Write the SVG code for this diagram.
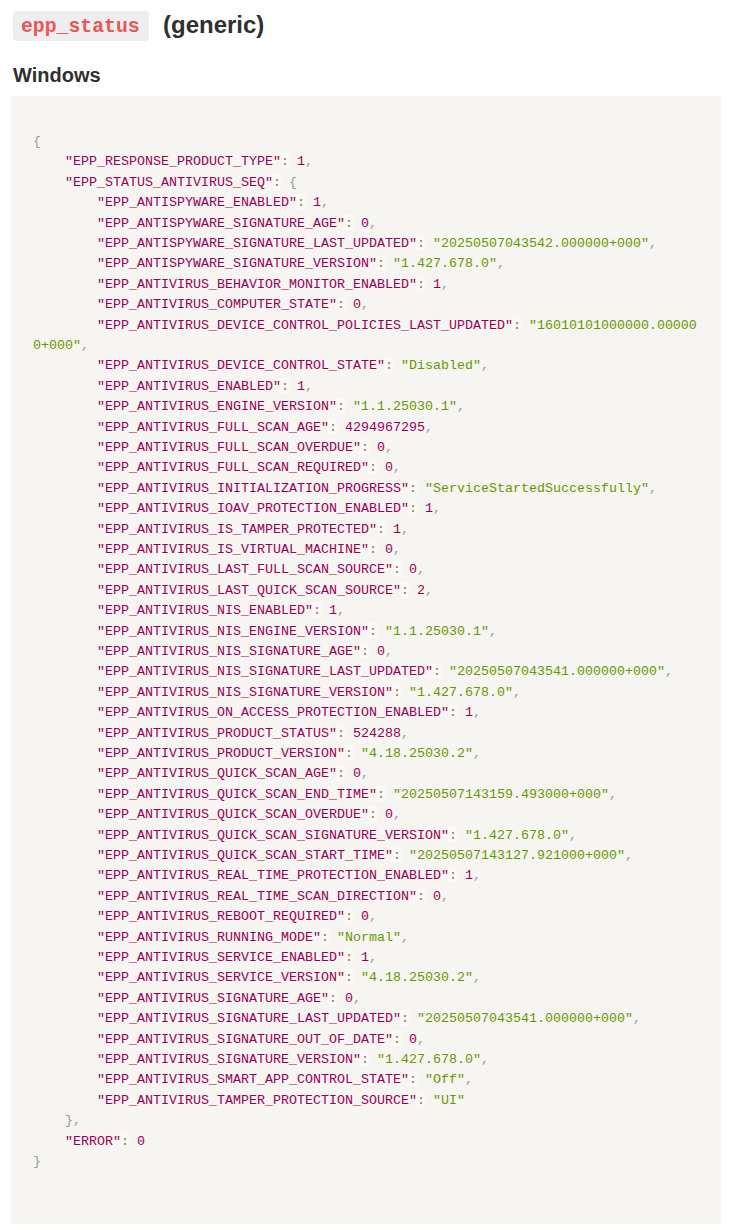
<svg xmlns="http://www.w3.org/2000/svg" width="739" height="1230" viewBox="0 0 739 1230">
<style>
.h{font-family:"Liberation Sans",Arial,sans-serif;font-weight:bold;fill:#2f2f2f}
.c{font-family:"Liberation Mono","DejaVu Sans Mono",monospace;font-size:13.33px}
.k{fill:#990055}.s{fill:#669900}.n{fill:#990055}.p{fill:#999999}.o{fill:#9a6e3a}
.ob{fill:#fbfaf9}
</style>
<rect width="739" height="1230" fill="#ffffff"/>
<g id="title">
<rect x="13" y="11" width="136" height="30" rx="4" fill="#eeeeee"/>
<text x="21" y="32" font-family="Liberation Mono, monospace" font-size="19.8" font-weight="bold" fill="#eb5757">epp_status</text>
<text class="h" x="163" y="33" font-size="24">(generic)</text>
</g>
<g id="heading">
<text class="h" x="13" y="82" font-size="20">Windows</text>
</g>
<g id="codeblock">
<rect x="11" y="96" width="710" height="1128" rx="4" fill="#f6f5f2"/>
<g id="colon-highlights">
<rect class="ob" x="281" y="153.4" width="8" height="15.5"/>
<rect class="ob" x="273" y="173.8" width="8" height="15.5"/>
<rect class="ob" x="297" y="194.2" width="8" height="15.5"/>
<rect class="ob" x="345" y="214.6" width="8" height="15.5"/>
<rect class="ob" x="417" y="235" width="8" height="15.5"/>
<rect class="ob" x="377" y="255.4" width="8" height="15.5"/>
<rect class="ob" x="417" y="275.8" width="8" height="15.5"/>
<rect class="ob" x="337" y="296.2" width="8" height="15.5"/>
<rect class="ob" x="513" y="316.6" width="8" height="15.5"/>
<rect class="ob" x="385" y="357.4" width="8" height="15.5"/>
<rect class="ob" x="281" y="377.8" width="8" height="15.5"/>
<rect class="ob" x="337" y="398.2" width="8" height="15.5"/>
<rect class="ob" x="329" y="418.6" width="8" height="15.5"/>
<rect class="ob" x="361" y="439" width="8" height="15.5"/>
<rect class="ob" x="369" y="459.4" width="8" height="15.5"/>
<rect class="ob" x="409" y="479.8" width="8" height="15.5"/>
<rect class="ob" x="409" y="500.2" width="8" height="15.5"/>
<rect class="ob" x="377" y="520.6" width="8" height="15.5"/>
<rect class="ob" x="369" y="541" width="8" height="15.5"/>
<rect class="ob" x="393" y="561.4" width="8" height="15.5"/>
<rect class="ob" x="401" y="581.8" width="8" height="15.5"/>
<rect class="ob" x="313" y="602.2" width="8" height="15.5"/>
<rect class="ob" x="369" y="622.6" width="8" height="15.5"/>
<rect class="ob" x="361" y="643" width="8" height="15.5"/>
<rect class="ob" x="433" y="663.4" width="8" height="15.5"/>
<rect class="ob" x="393" y="683.8" width="8" height="15.5"/>
<rect class="ob" x="449" y="704.2" width="8" height="15.5"/>
<rect class="ob" x="337" y="724.6" width="8" height="15.5"/>
<rect class="ob" x="345" y="745" width="8" height="15.5"/>
<rect class="ob" x="337" y="765.4" width="8" height="15.5"/>
<rect class="ob" x="377" y="785.8" width="8" height="15.5"/>
<rect class="ob" x="369" y="806.2" width="8" height="15.5"/>
<rect class="ob" x="449" y="826.6" width="8" height="15.5"/>
<rect class="ob" x="393" y="847" width="8" height="15.5"/>
<rect class="ob" x="449" y="867.4" width="8" height="15.5"/>
<rect class="ob" x="417" y="887.8" width="8" height="15.5"/>
<rect class="ob" x="345" y="908.2" width="8" height="15.5"/>
<rect class="ob" x="321" y="928.6" width="8" height="15.5"/>
<rect class="ob" x="345" y="949" width="8" height="15.5"/>
<rect class="ob" x="345" y="969.4" width="8" height="15.5"/>
<rect class="ob" x="329" y="989.8" width="8" height="15.5"/>
<rect class="ob" x="401" y="1010.2" width="8" height="15.5"/>
<rect class="ob" x="393" y="1030.6" width="8" height="15.5"/>
<rect class="ob" x="361" y="1051" width="8" height="15.5"/>
<rect class="ob" x="409" y="1071.4" width="8" height="15.5"/>
<rect class="ob" x="417" y="1091.8" width="8" height="15.5"/>
<rect class="ob" x="121" y="1132.6" width="8" height="15.5"/>
</g>
<g id="code" class="c">
<text x="33" y="145"><tspan class="p">{</tspan></text>
<text x="65" y="165.4"><tspan class="k">"EPP_RESPONSE_PRODUCT_TYPE"</tspan><tspan class="o">:</tspan> <tspan class="n">1</tspan><tspan class="p">,</tspan></text>
<text x="65" y="185.8"><tspan class="k">"EPP_STATUS_ANTIVIRUS_SEQ"</tspan><tspan class="o">:</tspan> <tspan class="p">{</tspan></text>
<text x="97" y="206.2"><tspan class="k">"EPP_ANTISPYWARE_ENABLED"</tspan><tspan class="o">:</tspan> <tspan class="n">1</tspan><tspan class="p">,</tspan></text>
<text x="97" y="226.6"><tspan class="k">"EPP_ANTISPYWARE_SIGNATURE_AGE"</tspan><tspan class="o">:</tspan> <tspan class="n">0</tspan><tspan class="p">,</tspan></text>
<text x="97" y="247"><tspan class="k">"EPP_ANTISPYWARE_SIGNATURE_LAST_UPDATED"</tspan><tspan class="o">:</tspan> <tspan class="s">"20250507043542.000000+000"</tspan><tspan class="p">,</tspan></text>
<text x="97" y="267.4"><tspan class="k">"EPP_ANTISPYWARE_SIGNATURE_VERSION"</tspan><tspan class="o">:</tspan> <tspan class="s">"1.427.678.0"</tspan><tspan class="p">,</tspan></text>
<text x="97" y="287.8"><tspan class="k">"EPP_ANTIVIRUS_BEHAVIOR_MONITOR_ENABLED"</tspan><tspan class="o">:</tspan> <tspan class="n">1</tspan><tspan class="p">,</tspan></text>
<text x="97" y="308.2"><tspan class="k">"EPP_ANTIVIRUS_COMPUTER_STATE"</tspan><tspan class="o">:</tspan> <tspan class="n">0</tspan><tspan class="p">,</tspan></text>
<text x="97" y="328.6"><tspan class="k">"EPP_ANTIVIRUS_DEVICE_CONTROL_POLICIES_LAST_UPDATED"</tspan><tspan class="o">:</tspan> <tspan class="s">"16010101000000.00000</tspan></text>
<text x="33" y="349"><tspan class="s">0+000"</tspan><tspan class="p">,</tspan></text>
<text x="97" y="369.4"><tspan class="k">"EPP_ANTIVIRUS_DEVICE_CONTROL_STATE"</tspan><tspan class="o">:</tspan> <tspan class="s">"Disabled"</tspan><tspan class="p">,</tspan></text>
<text x="97" y="389.8"><tspan class="k">"EPP_ANTIVIRUS_ENABLED"</tspan><tspan class="o">:</tspan> <tspan class="n">1</tspan><tspan class="p">,</tspan></text>
<text x="97" y="410.2"><tspan class="k">"EPP_ANTIVIRUS_ENGINE_VERSION"</tspan><tspan class="o">:</tspan> <tspan class="s">"1.1.25030.1"</tspan><tspan class="p">,</tspan></text>
<text x="97" y="430.6"><tspan class="k">"EPP_ANTIVIRUS_FULL_SCAN_AGE"</tspan><tspan class="o">:</tspan> <tspan class="n">4294967295</tspan><tspan class="p">,</tspan></text>
<text x="97" y="451"><tspan class="k">"EPP_ANTIVIRUS_FULL_SCAN_OVERDUE"</tspan><tspan class="o">:</tspan> <tspan class="n">0</tspan><tspan class="p">,</tspan></text>
<text x="97" y="471.4"><tspan class="k">"EPP_ANTIVIRUS_FULL_SCAN_REQUIRED"</tspan><tspan class="o">:</tspan> <tspan class="n">0</tspan><tspan class="p">,</tspan></text>
<text x="97" y="491.8"><tspan class="k">"EPP_ANTIVIRUS_INITIALIZATION_PROGRESS"</tspan><tspan class="o">:</tspan> <tspan class="s">"ServiceStartedSuccessfully"</tspan><tspan class="p">,</tspan></text>
<text x="97" y="512.2"><tspan class="k">"EPP_ANTIVIRUS_IOAV_PROTECTION_ENABLED"</tspan><tspan class="o">:</tspan> <tspan class="n">1</tspan><tspan class="p">,</tspan></text>
<text x="97" y="532.6"><tspan class="k">"EPP_ANTIVIRUS_IS_TAMPER_PROTECTED"</tspan><tspan class="o">:</tspan> <tspan class="n">1</tspan><tspan class="p">,</tspan></text>
<text x="97" y="553"><tspan class="k">"EPP_ANTIVIRUS_IS_VIRTUAL_MACHINE"</tspan><tspan class="o">:</tspan> <tspan class="n">0</tspan><tspan class="p">,</tspan></text>
<text x="97" y="573.4"><tspan class="k">"EPP_ANTIVIRUS_LAST_FULL_SCAN_SOURCE"</tspan><tspan class="o">:</tspan> <tspan class="n">0</tspan><tspan class="p">,</tspan></text>
<text x="97" y="593.8"><tspan class="k">"EPP_ANTIVIRUS_LAST_QUICK_SCAN_SOURCE"</tspan><tspan class="o">:</tspan> <tspan class="n">2</tspan><tspan class="p">,</tspan></text>
<text x="97" y="614.2"><tspan class="k">"EPP_ANTIVIRUS_NIS_ENABLED"</tspan><tspan class="o">:</tspan> <tspan class="n">1</tspan><tspan class="p">,</tspan></text>
<text x="97" y="634.6"><tspan class="k">"EPP_ANTIVIRUS_NIS_ENGINE_VERSION"</tspan><tspan class="o">:</tspan> <tspan class="s">"1.1.25030.1"</tspan><tspan class="p">,</tspan></text>
<text x="97" y="655"><tspan class="k">"EPP_ANTIVIRUS_NIS_SIGNATURE_AGE"</tspan><tspan class="o">:</tspan> <tspan class="n">0</tspan><tspan class="p">,</tspan></text>
<text x="97" y="675.4"><tspan class="k">"EPP_ANTIVIRUS_NIS_SIGNATURE_LAST_UPDATED"</tspan><tspan class="o">:</tspan> <tspan class="s">"20250507043541.000000+000"</tspan><tspan class="p">,</tspan></text>
<text x="97" y="695.8"><tspan class="k">"EPP_ANTIVIRUS_NIS_SIGNATURE_VERSION"</tspan><tspan class="o">:</tspan> <tspan class="s">"1.427.678.0"</tspan><tspan class="p">,</tspan></text>
<text x="97" y="716.2"><tspan class="k">"EPP_ANTIVIRUS_ON_ACCESS_PROTECTION_ENABLED"</tspan><tspan class="o">:</tspan> <tspan class="n">1</tspan><tspan class="p">,</tspan></text>
<text x="97" y="736.6"><tspan class="k">"EPP_ANTIVIRUS_PRODUCT_STATUS"</tspan><tspan class="o">:</tspan> <tspan class="n">524288</tspan><tspan class="p">,</tspan></text>
<text x="97" y="757"><tspan class="k">"EPP_ANTIVIRUS_PRODUCT_VERSION"</tspan><tspan class="o">:</tspan> <tspan class="s">"4.18.25030.2"</tspan><tspan class="p">,</tspan></text>
<text x="97" y="777.4"><tspan class="k">"EPP_ANTIVIRUS_QUICK_SCAN_AGE"</tspan><tspan class="o">:</tspan> <tspan class="n">0</tspan><tspan class="p">,</tspan></text>
<text x="97" y="797.8"><tspan class="k">"EPP_ANTIVIRUS_QUICK_SCAN_END_TIME"</tspan><tspan class="o">:</tspan> <tspan class="s">"20250507143159.493000+000"</tspan><tspan class="p">,</tspan></text>
<text x="97" y="818.2"><tspan class="k">"EPP_ANTIVIRUS_QUICK_SCAN_OVERDUE"</tspan><tspan class="o">:</tspan> <tspan class="n">0</tspan><tspan class="p">,</tspan></text>
<text x="97" y="838.6"><tspan class="k">"EPP_ANTIVIRUS_QUICK_SCAN_SIGNATURE_VERSION"</tspan><tspan class="o">:</tspan> <tspan class="s">"1.427.678.0"</tspan><tspan class="p">,</tspan></text>
<text x="97" y="859"><tspan class="k">"EPP_ANTIVIRUS_QUICK_SCAN_START_TIME"</tspan><tspan class="o">:</tspan> <tspan class="s">"20250507143127.921000+000"</tspan><tspan class="p">,</tspan></text>
<text x="97" y="879.4"><tspan class="k">"EPP_ANTIVIRUS_REAL_TIME_PROTECTION_ENABLED"</tspan><tspan class="o">:</tspan> <tspan class="n">1</tspan><tspan class="p">,</tspan></text>
<text x="97" y="899.8"><tspan class="k">"EPP_ANTIVIRUS_REAL_TIME_SCAN_DIRECTION"</tspan><tspan class="o">:</tspan> <tspan class="n">0</tspan><tspan class="p">,</tspan></text>
<text x="97" y="920.2"><tspan class="k">"EPP_ANTIVIRUS_REBOOT_REQUIRED"</tspan><tspan class="o">:</tspan> <tspan class="n">0</tspan><tspan class="p">,</tspan></text>
<text x="97" y="940.6"><tspan class="k">"EPP_ANTIVIRUS_RUNNING_MODE"</tspan><tspan class="o">:</tspan> <tspan class="s">"Normal"</tspan><tspan class="p">,</tspan></text>
<text x="97" y="961"><tspan class="k">"EPP_ANTIVIRUS_SERVICE_ENABLED"</tspan><tspan class="o">:</tspan> <tspan class="n">1</tspan><tspan class="p">,</tspan></text>
<text x="97" y="981.4"><tspan class="k">"EPP_ANTIVIRUS_SERVICE_VERSION"</tspan><tspan class="o">:</tspan> <tspan class="s">"4.18.25030.2"</tspan><tspan class="p">,</tspan></text>
<text x="97" y="1001.8"><tspan class="k">"EPP_ANTIVIRUS_SIGNATURE_AGE"</tspan><tspan class="o">:</tspan> <tspan class="n">0</tspan><tspan class="p">,</tspan></text>
<text x="97" y="1022.2"><tspan class="k">"EPP_ANTIVIRUS_SIGNATURE_LAST_UPDATED"</tspan><tspan class="o">:</tspan> <tspan class="s">"20250507043541.000000+000"</tspan><tspan class="p">,</tspan></text>
<text x="97" y="1042.6"><tspan class="k">"EPP_ANTIVIRUS_SIGNATURE_OUT_OF_DATE"</tspan><tspan class="o">:</tspan> <tspan class="n">0</tspan><tspan class="p">,</tspan></text>
<text x="97" y="1063"><tspan class="k">"EPP_ANTIVIRUS_SIGNATURE_VERSION"</tspan><tspan class="o">:</tspan> <tspan class="s">"1.427.678.0"</tspan><tspan class="p">,</tspan></text>
<text x="97" y="1083.4"><tspan class="k">"EPP_ANTIVIRUS_SMART_APP_CONTROL_STATE"</tspan><tspan class="o">:</tspan> <tspan class="s">"Off"</tspan><tspan class="p">,</tspan></text>
<text x="97" y="1103.8"><tspan class="k">"EPP_ANTIVIRUS_TAMPER_PROTECTION_SOURCE"</tspan><tspan class="o">:</tspan> <tspan class="s">"UI"</tspan></text>
<text x="65" y="1124.2"><tspan class="p">},</tspan></text>
<text x="65" y="1144.6"><tspan class="k">"ERROR"</tspan><tspan class="o">:</tspan> <tspan class="n">0</tspan></text>
<text x="33" y="1165"><tspan class="p">}</tspan></text>
</g>
</g>
</svg>
